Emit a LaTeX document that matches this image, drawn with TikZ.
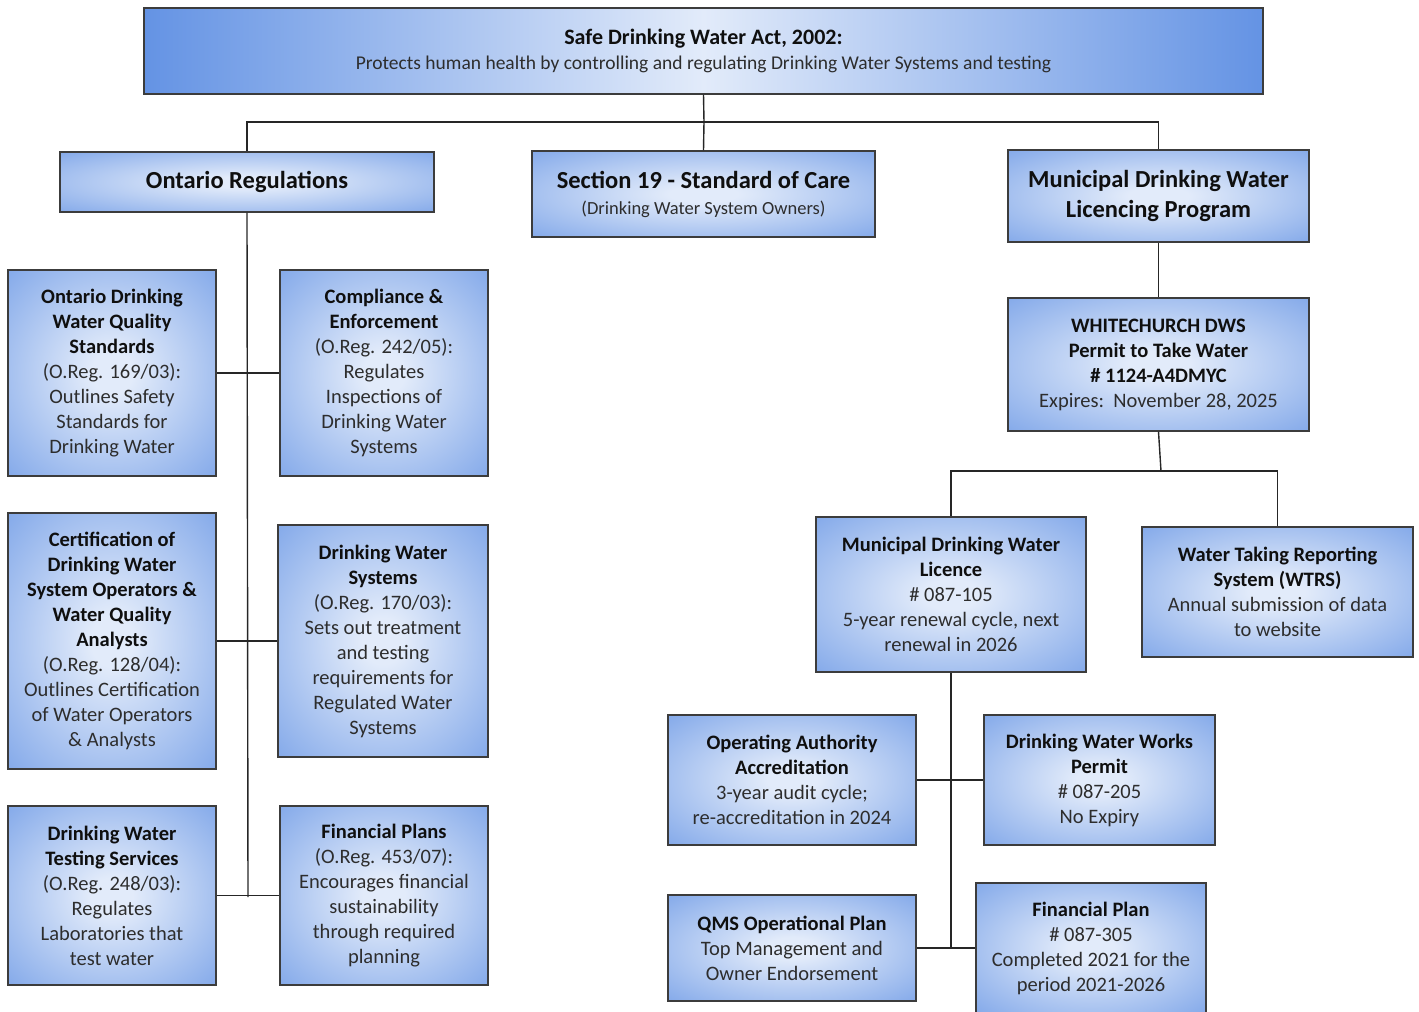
\documentclass[tikz,border=0pt]{standalone}
\usepackage{fontspec}
\setmainfont{Carlito}
\definecolor{boxblue}{RGB}{100,147,228}
\definecolor{boxlight}{RGB}{226,235,250}
\definecolor{boxedge}{RGB}{60,60,60}
\definecolor{bodytext}{RGB}{45,45,45}
\definecolor{headtext}{RGB}{15,15,15}
\pgfdeclareradialshading{boxglow}{\pgfpoint{0bp}{0bp}}{color(0bp)=(boxlight); color(5bp)=(boxlight); color(46bp)=(boxblue); color(100bp)=(boxblue)}
\newcommand{\boxhead}[1]{{\bfseries\color{headtext}#1}}
\tikzset{
  box/.style={draw=boxedge, line width=1.4pt, shade, shading=boxglow, align=center,
    inner sep=0pt, text=bodytext, font=\fontsize{20.5}{25}\selectfont},
  bigbox/.style={box, font=\fontsize{24.5}{30}\selectfont},
  link/.style={draw=black!85, line width=1.4pt},
}
\begin{document}
\begin{tikzpicture}[x=1pt, y=-1pt]
  \useasboundingbox (0,0) rectangle (1419,1012);

  % top level
  \node[box, left color=boxblue, right color=boxblue, middle color=boxlight,
    minimum width=1119, minimum height=86] (act) at (703.5,51)
    {{\fontsize{22}{27}\selectfont\boxhead{Safe Drinking Water Act, 2002:}}\\
     {\fontsize{19.5}{27}\selectfont Protects human health by controlling and regulating Drinking Water Systems and testing}};

  \node[bigbox, minimum width=374, minimum height=60] (oreg) at (247,182) {\boxhead{Ontario Regulations}};
  \node[bigbox, minimum width=343, minimum height=86] (sec19) at (703.5,194)
    {\boxhead{Section 19 - Standard of Care}\\[-4pt]{\fontsize{18.5}{27}\selectfont (Drinking Water System Owners)}};
  \node[bigbox, minimum width=301, minimum height=92] (mdwlp) at (1158.5,196)
    {\boxhead{Municipal Drinking Water}\\\boxhead{Licencing Program}};

  \coordinate (j1) at (704,122);
  \draw[link] (act.south) -- (j1);
  \draw[link] (oreg.north) |- (j1) -| (mdwlp.north);
  \draw[link] (j1) -- (sec19.north);

  % ontario regulations
  \node[box, minimum width=208, minimum height=206] (odwqs) at (112,373)
    {\boxhead{Ontario Drinking}\\\boxhead{Water Quality}\\\boxhead{Standards}\\(O.Reg. 169/03):\\Outlines Safety\\Standards for\\Drinking Water};
  \node[box, minimum width=208, minimum height=206] (comp) at (384,373)
    {\boxhead{Compliance \&}\\\boxhead{Enforcement}\\(O.Reg. 242/05):\\Regulates\\Inspections of\\Drinking Water\\Systems};
  \node[box, minimum width=208, minimum height=256] (cert) at (112,641)
    {\boxhead{Certification of}\\\boxhead{Drinking Water}\\\boxhead{System Operators \&}\\\boxhead{Water Quality}\\\boxhead{Analysts}\\(O.Reg. 128/04):\\Outlines Certification\\of Water Operators\\\& Analysts};
  \node[box, minimum width=210, minimum height=232] (dwsys) at (383,641)
    {\boxhead{Drinking Water}\\\boxhead{Systems}\\(O.Reg. 170/03):\\Sets out treatment\\and testing\\requirements for\\Regulated Water\\Systems};
  \node[box, minimum width=208, minimum height=179] (test) at (112,895.5)
    {\boxhead{Drinking Water}\\\boxhead{Testing Services}\\(O.Reg. 248/03):\\Regulates\\Laboratories that\\test water};
  \node[box, minimum width=208, minimum height=179] (finplans) at (384,895.5)
    {\boxhead{Financial Plans}\\(O.Reg. 453/07):\\Encourages financial\\sustainability\\through required\\planning};

  \coordinate (spine) at (248,897);
  \draw[link] (oreg.south) -- (spine);
  \draw[link] (odwqs.east) -- (comp.west);
  \draw[link] (cert.east) -- (dwsys.west);
  \draw[link] (test.east) -- (finplans.west);

  % licencing program
  \node[box, minimum width=301, minimum height=133] (wc) at (1158.5,364.5)
    {\boxhead{WHITECHURCH DWS}\\\boxhead{Permit to Take Water}\\\boxhead{\# 1124-A4DMYC}\\Expires:\ \ November 28, 2025};
  \node[box, minimum width=270, minimum height=155] (mdwl) at (951,594.5)
    {\boxhead{Municipal Drinking Water}\\\boxhead{Licence}\\\# 087-105\\5-year renewal cycle, next\\renewal in 2026};
  \node[box, minimum width=271, minimum height=130] (wtrs) at (1277.5,592)
    {\boxhead{Water Taking Reporting}\\\boxhead{System (WTRS)}\\Annual submission of data\\to website};
  \node[box, minimum width=248, minimum height=130] (oaa) at (792,780)
    {\boxhead{Operating Authority}\\\boxhead{Accreditation}\\3-year audit cycle;\\re-accreditation in 2024};
  \node[box, minimum width=231, minimum height=130] (dwwp) at (1099.5,780)
    {\boxhead{Drinking Water Works}\\\boxhead{Permit}\\\# 087-205\\No Expiry};
  \node[box, minimum width=248, minimum height=106] (qms) at (792,948)
    {\boxhead{QMS Operational Plan}\\Top Management and\\Owner Endorsement};
  \node[box, minimum width=230, minimum height=130] (finplan) at (1091,948)
    {\boxhead{Financial Plan}\\\# 087-305\\Completed 2021 for the\\period 2021-2026};

  \draw[link] (mdwlp.south) -- (wc.north);
  \coordinate (j2) at (1161,471);
  \draw[link] (wc.south) -- (j2);
  \draw[link] (mdwl.north) |- (j2) -| (wtrs.north);
  \coordinate (j3) at (951,948);
  \draw[link] (mdwl.south) -- (j3);
  \draw[link] (oaa.east) -- (dwwp.west);
  \draw[link] (qms.east) -- (finplan.west);
\end{tikzpicture}
\end{document}
